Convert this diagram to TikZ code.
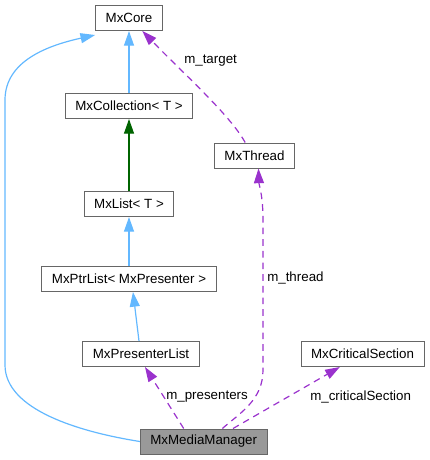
\documentclass[tikz,border=0pt]{standalone}
\usepackage{fontspec}
\setmainfont{Liberation Sans}
\usetikzlibrary{arrows.meta,positioning}
\definecolor{inhblue}{HTML}{63B8FF}
\definecolor{inhgreen}{HTML}{006400}
\definecolor{usepurple}{HTML}{9A32CD}
\definecolor{boxgray}{HTML}{666666}
\definecolor{mainfill}{HTML}{999999}
\tikzset{>={Triangle[length=11pt,width=7.5pt]}}

\begin{document}
\begin{tikzpicture}[x=0.75pt,y=-0.75pt,
    cls/.style={draw=boxgray,line width=0.75pt,inner xsep=7.5pt,minimum height=18.75pt,font=\fontsize{10pt}{12pt}\selectfont},
    inh/.style={->,inhblue,line width=0.9pt},
    uses/.style={->,usepurple,line width=0.9pt,dash pattern=on 5pt off 3.75pt},
    lbl/.style={anchor=west,inner sep=0pt,text=black,font=\fontsize{10pt}{12pt}\selectfont}]
        \useasboundingbox (0,0) rectangle (429,460);
        \node[cls] (core) at (129,18) {MxCore};
        \node[cls] (coll) at (129,106) {MxCollection< T >};
        \node[cls] (list) at (129,204) {MxList< T >};
        \node[cls] (thread) at (254.5,155.5) {MxThread};
        \node[cls] (ptr) at (129,279) {MxPtrList< MxPresenter >};
        \node[cls] (plist) at (141,354) {MxPresenterList};
        \node[cls] (crit) at (362.5,354) {MxCriticalSection};
        \node[cls,fill=mainfill] (mm) at (203.7,441.5) {MxMediaManager};
        \draw[inh] (coll) -- (core);
        \draw[->,inhgreen,line width=0.9pt] (list) -- (coll);
        \draw[inh] (ptr) -- (list);
        \draw[inh] ([xshift=-1.5pt]plist.north) -- ([xshift=3pt]ptr.south);
        \draw[inh] (mm.west) .. controls (80,432) and (5,410) .. (5,365) -- (5,100) .. controls (5,60) and (50,45) .. ([yshift=-3pt]core.south west);
        \draw[uses] ([xshift=-15pt]mm.north) -- ([xshift=3pt]plist.south);
        \node[lbl] (lpresenters) at (166,396.5) {m\_presenters};
        \draw[uses] ([xshift=14pt]mm.north) .. controls (240,413) and (263,400) .. (263,370) -- (263,220) .. controls (263,195) and (259,185) .. ([xshift=3pt]thread.south);
        \node[lbl] (lthread) at (267,278) {m\_thread};
        \draw[uses] ([xshift=22pt]mm.north) -- ([xshift=-17pt]crit.south);
        \node[lbl] (lcrit) at (310,396.5) {m\_criticalSection};
        \draw[uses] ([xshift=-7pt]thread.north) .. controls (230,115) and (185,75) .. ([xshift=10pt]core.south);
        \node[lbl] (ltarget) at (184,61) {m\_target};
    \end{tikzpicture}
\end{document}
